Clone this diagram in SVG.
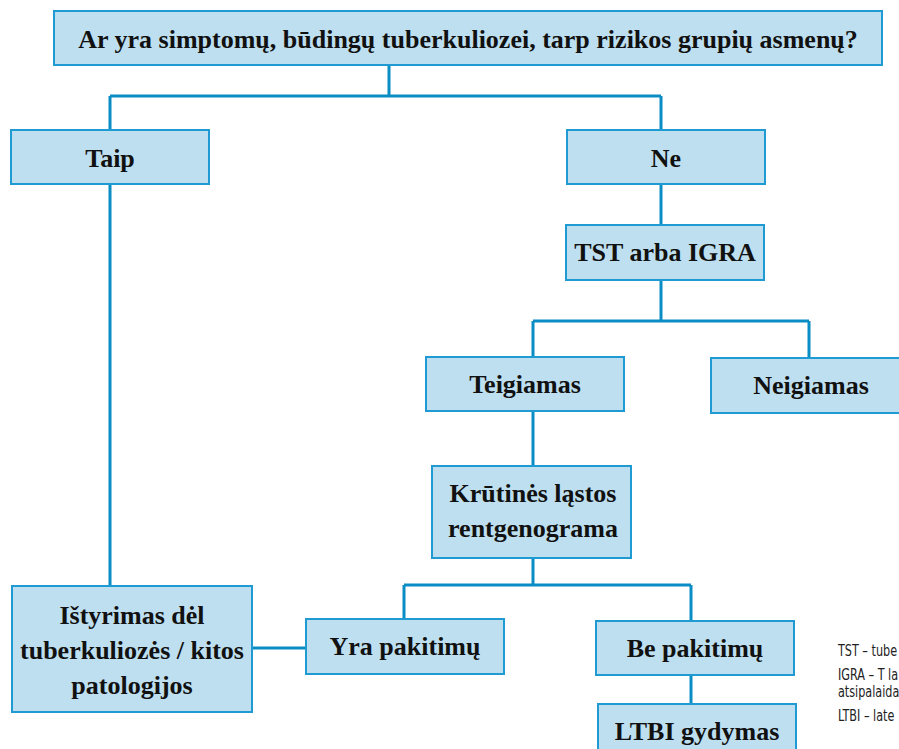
<svg xmlns="http://www.w3.org/2000/svg" width="899" height="749" viewBox="0 0 899 749">
<style>
.box{fill:#bddff0;stroke:#1f9ad2;stroke-width:2}
.t{font-family:"Liberation Serif",serif;font-weight:bold;font-size:26px;fill:#111;text-anchor:middle}
.c{fill:none;stroke:#0a8dc5;stroke-width:3}
.lg{font-family:"Liberation Sans Narrow","DejaVu Sans Condensed",sans-serif;font-size:16px;fill:#222}
</style>
<rect width="899" height="749" fill="#fff"/>
<g id="connectors">
<path class="c" d="M389 65V96M110 96H661M110 96V130M661 96V130"/>
<path class="c" d="M110 184V586"/>
<path class="c" d="M661 183V225"/>
<path class="c" d="M661 280V321M533 321H809M533 321V357M809 321V358"/>
<path class="c" d="M533 411V466"/>
<path class="c" d="M533 558V585M404 585H691M404 585V619M691 585V621"/>
<path class="c" d="M691 675V704"/>
<path class="c" d="M252 648H306"/>
</g>
<g id="q"><rect class="box" x="54" y="11" width="828" height="54"/><text class="t" x="468" y="48">Ar yra simptomų, būdingų tuberkuliozei, tarp rizikos grupių asmenų?</text></g>
<g id="taip"><rect class="box" x="11" y="130" width="198" height="54"/><text class="t" x="110" y="167">Taip</text></g>
<g id="ne"><rect class="box" x="567" y="130" width="198" height="54"/><text class="t" x="666" y="167">Ne</text></g>
<g id="tst"><rect class="box" x="566" y="225" width="198" height="55"/><text class="t" x="665" y="261">TST arba IGRA</text></g>
<g id="teig"><rect class="box" x="426" y="357" width="198" height="54"/><text class="t" x="525" y="393">Teigiamas</text></g>
<g id="neig"><rect class="box" x="711" y="358" width="200" height="55"/><text class="t" x="811" y="394">Neigiamas</text></g>
<g id="kr"><rect class="box" x="432" y="466" width="199" height="92"/><text class="t" x="533" y="502">Krūtinės ląstos</text><text class="t" x="533" y="537">rentgenograma</text></g>
<g id="ist"><rect class="box" x="12" y="586" width="240" height="126"/><text class="t" x="132" y="624">Ištyrimas dėl</text><text class="t" x="132" y="659">tuberkuliozės / kitos</text><text class="t" x="132" y="694">patologijos</text></g>
<g id="yra"><rect class="box" x="306" y="619" width="198" height="55"/><text class="t" x="405" y="655">Yra pakitimų</text></g>
<g id="be"><rect class="box" x="596" y="621" width="198" height="54"/><text class="t" x="695" y="657">Be pakitimų</text></g>
<g id="ltbi"><rect class="box" x="598" y="704" width="198" height="60"/><text class="t" x="697" y="740">LTBI gydymas</text></g>
<g id="legend">
<text class="lg" transform="translate(838,656) scale(0.78,1)">TST – tube</text>
<text class="lg" transform="translate(838,680) scale(0.78,1)">IGRA – T la</text>
<text class="lg" transform="translate(838,697) scale(0.78,1)">atsipalaida</text>
<text class="lg" transform="translate(838,721) scale(0.78,1)">LTBI – late</text>
</g>
</svg>
